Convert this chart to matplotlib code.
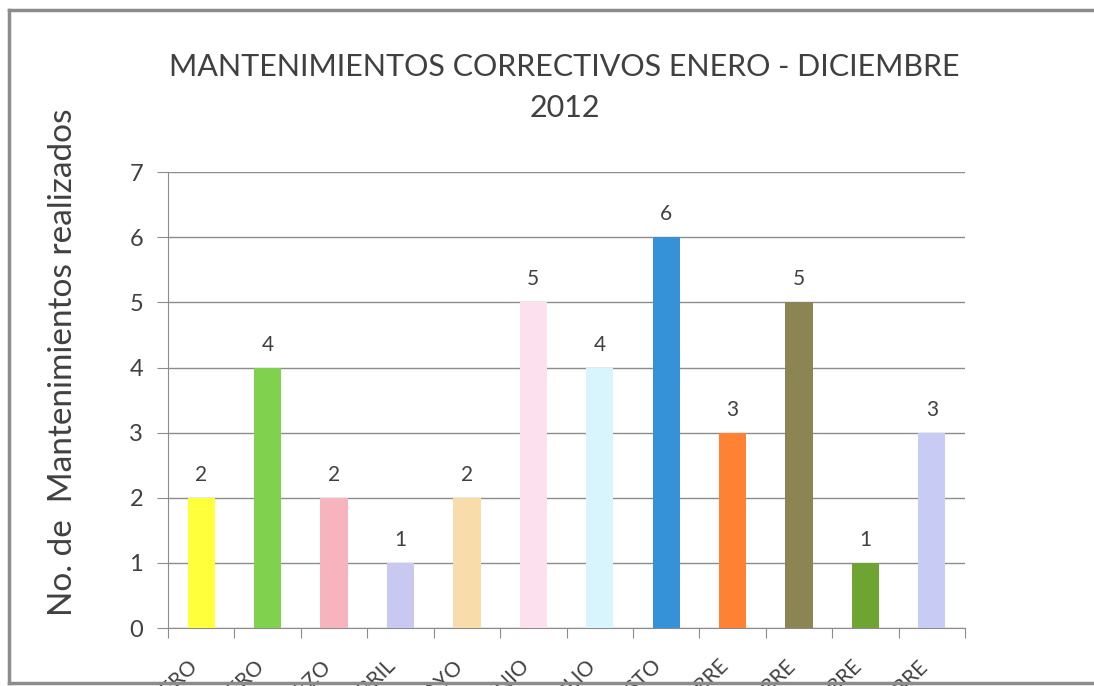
import matplotlib
matplotlib.use("Agg")
import matplotlib.pyplot as plt
import matplotlib.transforms as mtransforms
from matplotlib.lines import Line2D

plt.rcParams["font.family"] = ["Lato", "DejaVu Sans"]

# Data
meses = ["ENERO", "FEBRERO", "MARZO", "ABRIL", "MAYO", "JUNIO",
         "JULIO", "AGOSTO", "SEPTIEMBRE", "OCTUBRE", "NOVIEMBRE", "DICIEMBRE"]
mantenimientos = [2, 4, 2, 1, 2, 5, 4, 6, 3, 5, 1, 3]
colores = ["#ffff3c", "#80d14e", "#f8b4be", "#c8c8f0", "#f8dcaa", "#fce0ee",
           "#d8f4fc", "#3592d8", "#ff8234", "#8c8452", "#6ea432", "#c8ccf4"]

TEXT = "#404040"
FRAME = "#8c8c8c"

fig = plt.figure(figsize=(10.94, 6.86), dpi=100)
fig.patch.set_facecolor("white")

# gray frame of the original chart area (right side runs off the picture)
x0, y_top, y_bot = 9 / 1094, 1 - 10 / 686, 1 - 683 / 686
for xs, ys in [([x0, 1], [y_top, y_top]), ([x0, x0], [y_bot, y_top]),
               ([x0, 1], [y_bot, y_bot])]:
    fig.add_artist(Line2D(xs, ys, transform=fig.transFigure,
                          color=FRAME, linewidth=2.5))

ax = fig.add_axes([0.1536, 0.0845, 0.7285, 0.6645])
x = list(range(len(meses)))
bars = ax.bar(x, mantenimientos, width=0.41, color=colores, zorder=3)

for b, v in zip(bars, mantenimientos):
    ax.text(b.get_x() + b.get_width() / 2, v + 0.2, str(v),
            ha="center", va="bottom", fontsize=15, color=TEXT)

ax.set_xlim(-0.5, len(meses) - 0.5)
ax.set_ylim(0, 7)
ax.set_yticks(range(0, 8))
ax.yaxis.grid(True, color=FRAME, linewidth=1, zorder=0)
ax.set_axisbelow(True)

ax.set_xticks([i - 0.5 for i in range(len(meses) + 1)], minor=False)
ax.set_xticklabels([])
ax.set_xticks(x, minor=True)
labels = ax.set_xticklabels(meses, minor=True, rotation=45, ha="right",
                            va="top", fontsize=15, color=TEXT)
shift = mtransforms.ScaledTranslation(-18 / 100, 0, fig.dpi_scale_trans)
for lab in labels:
    lab.set_transform(lab.get_transform() + shift)
ax.tick_params(axis="x", which="minor", length=0, pad=20)
ax.tick_params(axis="x", which="major", length=7, color=FRAME, direction="out")
ax.tick_params(axis="y", length=8, color=FRAME, labelsize=17,
               labelcolor=TEXT, pad=10)

for s in ["top", "right"]:
    ax.spines[s].set_visible(False)
for s in ["left", "bottom"]:
    ax.spines[s].set_color(FRAME)

ax.set_ylabel("No. de  Mantenimientos realizados", fontsize=24, color=TEXT)
ax.yaxis.set_label_coords(-0.113, 0.583)

fig.text(0.516, 0.872, "MANTENIMIENTOS CORRECTIVOS ENERO - DICIEMBRE\n2012",
         ha="center", va="center", fontsize=22, color=TEXT, linespacing=1.55)

fig.savefig("out.png", dpi=100)
plt.close(fig)
